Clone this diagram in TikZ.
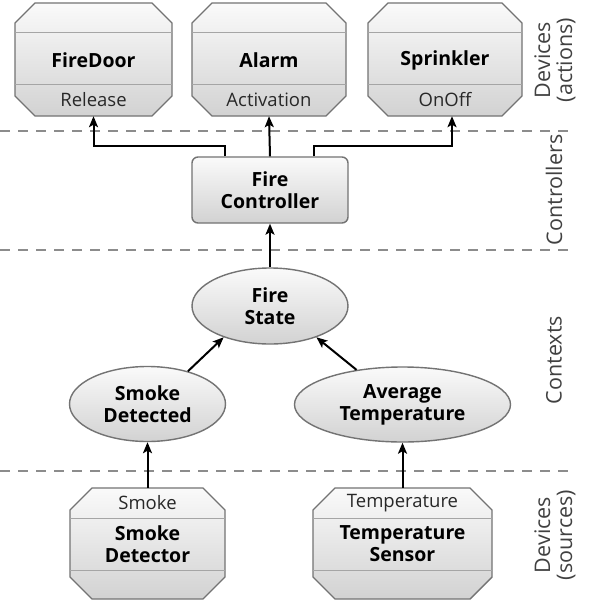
\documentclass[tikz,border=0pt]{standalone}
\usepackage{fontspec}
\setmainfont{Open Sans}
\usetikzlibrary{arrows.meta,shapes.geometric}
\definecolor{boxtop}{RGB}{250,250,250}
\definecolor{boxbot}{RGB}{210,210,210}
\definecolor{boxline}{RGB}{115,115,115}
\definecolor{sepcol}{RGB}{165,165,165}
\definecolor{dashcol}{RGB}{140,140,140}
\definecolor{lanecol}{RGB}{65,65,65}
\definecolor{opcol}{RGB}{40,40,40}
\tikzset{
  devbox/.style={draw=boxline, line width=1.4pt, top color=boxtop, bottom color=boxbot},
  sepline/.style={draw=sepcol, line width=1pt},
  anchorbox/.style={draw=none, inner sep=0pt},
  namelbl/.style={inner sep=0pt, align=center, font=\fontsize{19.5}{22}\selectfont\bfseries},
  oplbl/.style={inner sep=0pt, text=opcol, font=\fontsize{18.5}{22}\selectfont},
  ctrl/.style={draw=boxline, line width=1.4pt, top color=boxtop, bottom color=boxbot, rounded corners=6pt,
    minimum width=156pt, minimum height=66pt, inner sep=0pt, align=center, font=\fontsize{19.5}{22}\selectfont\bfseries},
  ctx/.style={ellipse, draw=boxline, line width=1.4pt, top color=boxtop, bottom color=boxbot,
    inner sep=0pt, align=center, font=\fontsize{19.5}{22}\selectfont\bfseries},
  arr/.style={draw=black, line width=2pt, -{Stealth[length=11pt,width=9pt,inset=2.5pt]}},
  lanesep/.style={draw=dashcol, line width=1.6pt, dash pattern=on 10pt off 8pt},
  lane/.style={rotate=90, inner sep=0pt, align=center, text=lanecol, font=\fontsize{21.5}{22}\selectfont},
}
\newcommand{\octa}[5]{%
  \path[devbox] (#1+#5,#2) -- (#3-#5,#2) -- (#3,#2+#5) -- (#3,#4-#5) -- (#3-#5,#4) -- (#1+#5,#4) -- (#1,#4-#5) -- (#1,#2+#5) -- cycle;}
\begin{document}
\begin{tikzpicture}[x=1pt,y=-1pt]
\useasboundingbox (0,0) rectangle (589,603);
\fill[white] (0,0) rectangle (589,603);

% lane separators
\draw[lanesep] (0,131) -- (570,131);
\draw[lanesep] (0,250) -- (570,250);
\draw[lanesep] (0,471) -- (570,471);

% top devices
\octa{15}{3}{172}{116}{20}
\draw[sepline] (15,32) -- (172,32);
\draw[sepline] (15,84) -- (172,84);
\node[anchorbox, minimum width=157pt, minimum height=113pt] (fd) at (93.5,59.5) {};
\node[namelbl] (fdn) at (93.5,60.5) {FireDoor};
\node[oplbl] (fdo) at (93.5,100) {Release};

\octa{192}{3}{346}{116}{20}
\draw[sepline] (192,32) -- (346,32);
\draw[sepline] (192,84) -- (346,84);
\node[anchorbox, minimum width=154pt, minimum height=113pt] (al) at (269,59.5) {};
\node[namelbl] (aln) at (269,60.5) {Alarm};
\node[oplbl] (alo) at (269,100) {Activation};

\octa{368}{3}{522}{116}{20}
\draw[sepline] (368,32) -- (522,32);
\draw[sepline] (368,84) -- (522,84);
\node[anchorbox, minimum width=154pt, minimum height=113pt] (sp) at (445,59.5) {};
\node[namelbl] (spn) at (445,60.5) {Sprinkler};
\node[oplbl] (spo) at (445,100) {OnOff};

% controller
\node[ctrl] (fc) at (270,190) {Fire\\Controller};

% contexts
\node[ctx, minimum width=156pt, minimum height=76pt] (fs) at (270,306) {Fire\\State};
\node[ctx, minimum width=156pt, minimum height=75pt] (sd) at (147.5,404) {Smoke\\Detected};
\node[ctx, minimum width=216pt, minimum height=75pt] (at) at (402.5,404.5) {Average\\Temperature};

% bottom devices
\octa{70}{488}{225}{599}{22}
\draw[sepline] (70,518) -- (225,518);
\draw[sepline] (70,570) -- (225,570);
\node[anchorbox, minimum width=155pt, minimum height=111pt] (sdv) at (147.5,543.5) {};
\node[oplbl] (sdvo) at (147.5,503) {Smoke};
\node[namelbl] (sdvn) at (147.5,544) {Smoke\\Detector};

\octa{313}{488}{492}{599}{22}
\draw[sepline] (313,518) -- (492,518);
\draw[sepline] (313,570) -- (492,570);
\node[anchorbox, minimum width=179pt, minimum height=111pt] (ts) at (402.5,543.5) {};
\node[oplbl] (tso) at (402.5,503) {Temperature};
\node[namelbl] (tsn) at (402.5,544) {Temperature\\Sensor};

% connectors
\draw[arr] ([xshift=34pt]fc.north west) -- ++(0,-10) -| (fd.south);
\draw[arr] (fc.north) -- (al.south);
\draw[arr] ([xshift=-35pt]fc.north east) -- ++(0,-10) -| ([xshift=7pt]sp.south);
\draw[arr] (fs.north) -- (fc.south);
\draw[arr] (sd.39) -- (fs.214);
\draw[arr] (at.143) -- (fs.326);
\draw[arr] (sdv.north) -- (sd.south);
\draw[arr] (ts.north) -- (at.south);

% lane labels
\node[lane] (l1) at (555,60) {Devices\\(actions)};
\node[lane] (l2) at (554,190) {Controllers};
\node[lane] (l3) at (554,360) {Contexts};
\node[lane] (l4) at (555,535) {Devices\\(sources)};
\end{tikzpicture}
\end{document}
